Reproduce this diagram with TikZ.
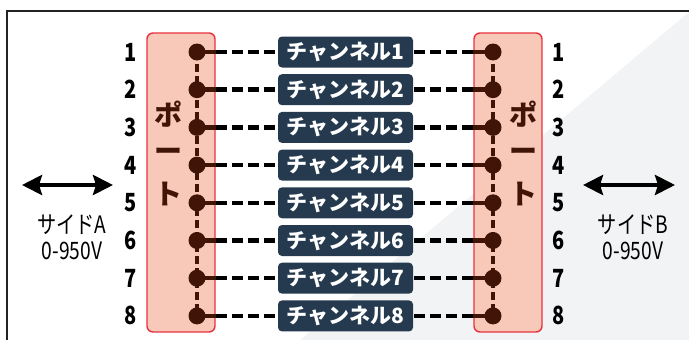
\documentclass[tikz,border=0pt]{standalone}
\usepackage{fontspec}
\setmainfont{Noto Sans CJK JP}
\newfontfamily\numfont[FakeStretch=0.8]{Noto Sans CJK JP}
\usetikzlibrary{arrows.meta}
\definecolor{portcolor}{RGB}{248, 201, 184}
\definecolor{portedge}{RGB}{232, 50, 63}
\definecolor{chancolor}{RGB}{37, 58, 79}
\definecolor{pincolor}{RGB}{64, 20, 6}
\definecolor{shadecolor}{RGB}{242, 243, 245}
\definecolor{framecolor}{RGB}{34, 34, 34}

\tikzset{
    portbox/.style={draw=portedge,
                    line width=1.4pt,
                    fill=portcolor,
                    rounded corners=6pt,
                    minimum width=68pt,
                    minimum height=299pt},
    chanbox/.style={fill=chancolor,
                    rounded corners=4pt,
                    text=white,
                    inner sep=0pt,
                    minimum width=135pt,
                    minimum height=31pt,
                    font=\bfseries\fontsize{21}{21}\selectfont},
    pin/.style={circle,
                fill=pincolor,
                inner sep=0pt,
                minimum size=17pt},
    pinnum/.style={font=\numfont\bfseries\fontsize{25}{25}\selectfont},
    portchar/.style={text=pincolor,
                     font=\bfseries\fontsize{28}{28}\selectfont},
    wire/.style={line width=4.5pt,
                 dash pattern=on 11pt off 5pt},
    pinwire/.style={pincolor,
                    line width=4.5pt},
    sidelabel/.style={align=center,
                      font=\numfont\fontsize{24}{26}\selectfont},
    sidearrow/.style={line width=4pt,
                      {Stealth[length=20pt,width=20pt,inset=3pt]}-{Stealth[length=20pt,width=20pt,inset=3pt]}}
}

\begin{document}
\begin{tikzpicture}[x=1pt,y=-1pt]
        \useasboundingbox (0,0) rectangle (689,340);
        \fill[shadecolor] (689,12) -- (689,340) -- (300,340) -- cycle;
        \draw[framecolor, line width=2.6pt] (7,345) -- (7,11) -- (695,11);

        \node[portbox] (portA) at (181,182.5) {};
        \node[portbox] (portB) at (508,182.5) {};

        \node[portchar] (portA1) at (168,114) {ポ};
        \node[portchar] (portA2) at (168,155) {ー};
        \node[portchar] (portA3) at (168,194) {ト};
        \node[portchar] (portB1) at (523,114) {ポ};
        \node[portchar] (portB2) at (523,155) {ー};
        \node[portchar] (portB3) at (523,194) {ト};

        \foreach \i in {1,...,8}{
            \pgfmathsetmacro\ry{52+(\i-1)*37.7}
            \node[chanbox] (ch\i) at (345.5,\ry) {チャンネル\i};
            \node[pin] (pa\i) at (197,\ry) {};
            \node[pin] (pb\i) at (493,\ry) {};
            \node[pinnum] (na\i) at (131,\ry) {\i};
            \node[pinnum] (nb\i) at (559,\ry) {\i};
            \draw[pinwire] (pa\i.center) -- (pa\i -| portA.east);
            \draw[wire] (pa\i -| portA.east) -- (ch\i.west);
            \draw[pinwire] (pb\i.center) -- (pb\i -| portB.west);
            \draw[wire] (pb\i -| portB.west) -- (ch\i.east);
        }
        \draw[pinwire, dash pattern=on 8pt off 4pt] (pa1.center) -- (pa8.center);
        \draw[pinwire, dash pattern=on 8pt off 4pt] (pb1.center) -- (pb8.center);

        \coordinate (arrA1) at (22,185);
        \coordinate (arrA2) at (113,185);
        \coordinate (arrB1) at (583,185);
        \coordinate (arrB2) at (675,185);
        \draw[sidearrow] (arrA1) -- (arrA2);
        \draw[sidearrow] (arrB1) -- (arrB2);

        \node[sidelabel] (sideA) at (72,237) {サイドA\\0-950V};
        \node[sidelabel] (sideB) at (633,237) {サイドB\\0-950V};
    \end{tikzpicture}
\end{document}
